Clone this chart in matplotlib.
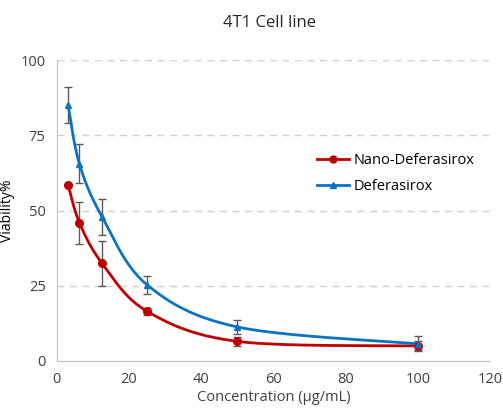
import numpy as np
import matplotlib
matplotlib.use("Agg")
import matplotlib.pyplot as plt
from matplotlib.lines import Line2D

conc = [3.125, 6.25, 12.5, 25, 50, 100]
nano = [58.5, 46, 32.5, 16.5, 6.5, 5]
nano_err = [0, 7, 7.5, 1.2, 1.5, 1.5]
defer = [85, 65.5, 48, 25.3, 11.3, 5.7]
defer_err = [6, 6.5, 6, 3, 2.3, 2.5]

RED = "#C00000"
BLUE = "#0B73C2"


def suave(x, y, n=40):
    # curva suavizada estilo Excel (Bezier tipo Catmull-Rom)
    x = np.asarray(x, float)
    y = np.asarray(y, float)
    px, py = [], []
    for i in range(len(x) - 1):
        i0 = max(i - 1, 0)
        i3 = min(i + 2, len(x) - 1)
        c1x = x[i] + (x[i + 1] - x[i0]) / 6
        c1y = y[i] + (y[i + 1] - y[i0]) / 6
        c2x = x[i + 1] - (x[i3] - x[i]) / 6
        c2y = y[i + 1] - (y[i3] - y[i]) / 6
        t = np.linspace(0, 1, n)
        bx = (1 - t) ** 3 * x[i] + 3 * (1 - t) ** 2 * t * c1x + 3 * (1 - t) * t ** 2 * c2x + t ** 3 * x[i + 1]
        by = (1 - t) ** 3 * y[i] + 3 * (1 - t) ** 2 * t * c1y + 3 * (1 - t) * t ** 2 * c2y + t ** 3 * y[i + 1]
        px.extend(bx)
        py.extend(by)
    return px, py


plt.rcParams['font.family'] = ['Open Sans', 'DejaVu Sans']

fig = plt.figure(figsize=(5.03, 4.12), dpi=100)
ax = fig.add_axes([0.113, 0.124, 0.861, 0.730])

for yv in [25, 50, 75, 100]:
    ax.axhline(yv, color="#D0D0D0", linestyle=(0, (5, 4)), linewidth=1, zorder=0)

ax.errorbar(conc, nano, yerr=nano_err, fmt="none", ecolor="#595959", capsize=3, elinewidth=1, zorder=2)
ax.errorbar(conc, defer, yerr=defer_err, fmt="none", ecolor="#595959", capsize=3, elinewidth=1, zorder=2)

sx, sy = suave(conc, nano)
ax.plot(sx, sy, color=RED, linewidth=2, zorder=3)
ax.plot(conc, nano, "o", color=RED, markersize=5.5, zorder=4)
sx, sy = suave(conc, defer)
ax.plot(sx, sy, color=BLUE, linewidth=2, zorder=3)
ax.plot(conc, defer, "^", color=BLUE, markersize=5, zorder=4)

ax.set_xlim(0, 120)
ax.set_ylim(0, 100)
ax.set_xticks(range(0, 121, 20))
ax.set_yticks([0, 25, 50, 75, 100])
ax.tick_params(length=0, labelsize=10.5, colors="#404040", pad=8)
for s in ["top", "right"]:
    ax.spines[s].set_visible(False)
for s in ["left", "bottom"]:
    ax.spines[s].set_color("#BFBFBF")

ax.set_xlabel("Concentration (\u00b5g/mL)", fontsize=10.5, color="#404040", labelpad=2)
ax.set_ylabel("Viability%", fontsize=10, color="#000000", labelpad=4)
fig.text(0.535, 0.945, "4T1 Cell line", ha="center", va="center", fontsize=12, color="#262626")

handles = [
    Line2D([0], [0], color=RED, linewidth=2, marker="o", markersize=5),
    Line2D([0], [0], color=BLUE, linewidth=2, marker="^", markersize=4),
]
ax.legend(handles, ["Nano-Deferasirox", "Deferasirox"], loc="upper left",
          bbox_to_anchor=(0.57, 0.735), frameon=False, fontsize=10.5,
          handlelength=2.2, handletextpad=0.3, labelspacing=0.75)

fig.savefig("out.png", dpi=100)
